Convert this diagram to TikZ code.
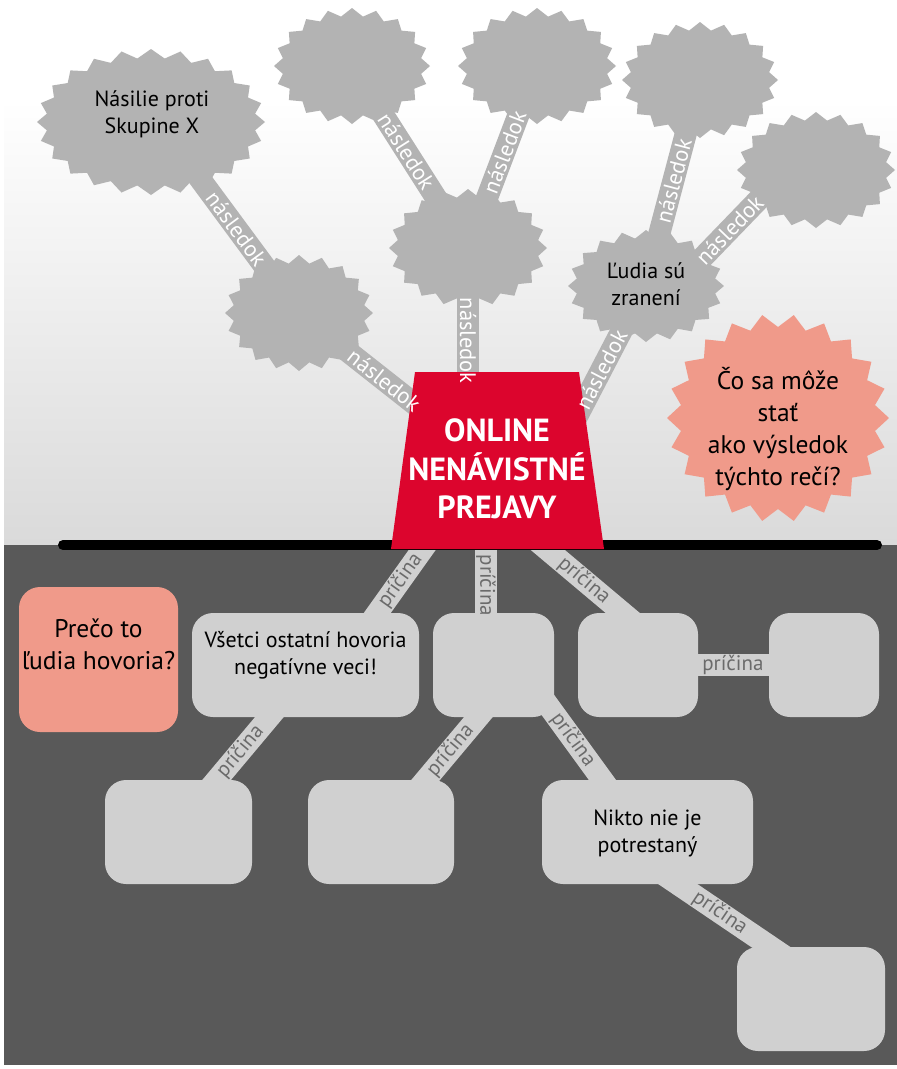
\documentclass[tikz,border=0pt]{standalone}
\usepackage{fontspec}
\setmainfont{PT Sans}
\usetikzlibrary{calc}
\pgfdeclarelayer{bg}\pgfdeclarelayer{bands}\pgfdeclarelayer{top}
\pgfsetlayers{bg,bands,main,top}
\definecolor{cloudgray}{HTML}{B3B3B3}
\definecolor{boxgray}{HTML}{D0D0D0}
\definecolor{darkbg}{HTML}{595959}
\definecolor{pinkc}{HTML}{F09A8A}
\definecolor{redc}{HTML}{DC052D}
\definecolor{lblgray}{HTML}{6B6B6B}
\definecolor{topbg}{HTML}{DADADA}
\newcommand\starfill[7]{%
  \fill[#7] plot[domain=0:360, samples=\number\numexpr2*#5+1\relax, variable=\t]
   ({#1+(#3-#6*mod(round(\t*#5/180),2))*cos(\t)},
    {#2+(#4-#6*mod(round(\t*#5/180),2))*sin(\t)}) -- cycle;}
\tikzset{
  topband/.style={line width=22pt, draw=cloudgray},
  botband/.style={line width=22pt, draw=boxgray},
  toplbl/.style={text=white, font=\fontsize{22.5}{22.5}\selectfont, inner sep=0pt},
  botlbl/.style={text=lblgray, font=\fontsize{21}{21}\selectfont, inner sep=0pt},
  txt/.style={font=\fontsize{22}{27}\selectfont, align=center, text=black, inner sep=0pt},
  bigtxt/.style={font=\fontsize{25.5}{32}\selectfont, align=center, text=black, inner sep=0pt},
  rbox/.style 2 args={fill=boxgray, rounded corners=21pt, inner sep=0pt, minimum width=#1pt, minimum height=#2pt},
  anchorpt/.style={inner sep=0pt, minimum size=0pt}
}
\begin{document}
\begin{tikzpicture}[x=1pt,y=-1pt]
\useasboundingbox (0,0) rectangle (897,1069);
\begin{pgfonlayer}{bg}
  \fill[white] (0,0) rectangle (897,1069);
  \shade[top color=white, bottom color=topbg] (4,100) rectangle (897,545);
  \fill[darkbg] (4,545) rectangle (897,1065);
\end{pgfonlayer}

% clouds
\starfill{151}{122}{114}{73}{24}{9}{cloudgray}
\starfill{352}{66}{78}{58}{20}{8}{cloudgray}
\starfill{537}{66}{79}{58}{20}{8}{cloudgray}
\starfill{700}{80}{78}{58}{20}{8}{cloudgray}
\starfill{816}{170}{79}{58}{20}{8}{cloudgray}
\starfill{468}{248}{79}{59}{20}{8}{cloudgray}
\starfill{299}{313}{74}{58}{20}{8}{cloudgray}
\starfill{646}{286}{78}{56}{20}{8}{cloudgray}
\starfill{778}{418}{111}{104}{22}{13}{pinkc}

\node[txt] (N) at (152,114) {Násilie proti\\Skupine X};
\node[anchorpt] (A) at (352,66) {};
\node[anchorpt] (B) at (537,66) {};
\node[anchorpt] (C) at (700,80) {};
\node[anchorpt] (D) at (816,170) {};
\node[anchorpt] (M) at (468,248) {};
\node[anchorpt] (L) at (299,313) {};
\node[txt] (U) at (646,284) {Ľudia sú\\zranení};
\node[bigtxt] (Q) at (778,429) {Čo sa môže\\stať\\ako výsledok\\týchto rečí?};

% ground line and central block
\draw[line width=10pt, line cap=round] (63,545) -- (877,545);
\fill[redc] (391,549) -- (415,372) -- (579,372) -- (604,549) -- cycle;
\node[font=\bfseries\fontsize{32}{38.5}\selectfont, text=white, align=center, inner sep=0pt] (on) at (497,469) {ONLINE\\NENÁVISTNÉ\\PREJAVY};

% boxes
\node[rbox={159}{145}, fill=pinkc] (P) at (98.5,659.5) {};
\node[bigtxt] (Pt) at (98.5,644) {Prečo to\\ľudia hovoria?};
\node[rbox={227}{104}] (V) at (305.5,665) {};
\node[txt] (Vt) at (305.5,655.5) {Všetci ostatní hovoria\\negatívne veci!};
\node[rbox={121}{104}] (T) at (493.5,665) {};
\node[rbox={120}{104}] (R1) at (638,665) {};
\node[rbox={110}{104}] (R2) at (824,665) {};
\node[rbox={147}{104}] (B1) at (178.5,832) {};
\node[rbox={146}{104}] (B2) at (381,832) {};
\node[rbox={211}{104}] (K) at (647.5,832) {};
\node[txt] (Kt) at (647.5,833) {Nikto nie je\\potrestaný};
\node[rbox={148}{104}] (BR) at (811,999) {};

% band end points
\coordinate (Ud) at (680,281);
\coordinate (Dd) at (790,167);
\coordinate (onR) at (570,430);
\coordinate (onV) at (435,532);
\coordinate (Vu) at (358,640);
\coordinate (onT) at (486,530);
\coordinate (onR1) at (530,535);
\coordinate (R1u) at (643,630);
\coordinate (Vd) at (282,702);
\coordinate (B1u) at (204,795);
\coordinate (Td) at (491,702);
\coordinate (B2u) at (413,795);
\coordinate (Tk) at (537,690);
\coordinate (Ku) at (617,800);
\coordinate (Kd) at (660,872);
\coordinate (BRu) at (790,960);

\begin{pgfonlayer}{bands}
  \draw[topband] (N.center) -- (L.center);
  \draw[topband] (L.center) -- (on.center);
  \draw[topband] (A.center) -- (M.center);
  \draw[topband] (M.center) -- (B.center);
  \draw[topband] (M.center) -- (M.center |- on.center);
  \draw[topband] (U.center) -- (C.center);
  \draw[topband] (Ud) -- (Dd);
  \draw[topband] (onR) -- (U.center);
  \draw[botband] (onV) -- (Vu);
  \draw[botband] (onT) -- (onT |- T.center);
  \draw[botband] (onR1) -- (R1u);
  \draw[botband] (R1.center) -- (R2.center);
  \draw[botband] (Vd) -- (B1u);
  \draw[botband] (Td) -- (B2u);
  \draw[botband] (Tk) -- (Ku);
  \draw[botband] (Kd) -- (BRu);
\end{pgfonlayer}

\begin{pgfonlayer}{top}
  \path (N.center) -- (L.center) node[toplbl, sloped, pos=0.575] {následok};
  \path (L.center) -- (on.center) node[toplbl, sloped, pos=0.431] {následok};
  \path (A.center) -- (M.center) node[toplbl, sloped, pos=0.47] {následok};
  \path (M.center) -- (B.center) node[toplbl, sloped, pos=0.527] {následok};
  \path (M.center) -- (M.center |- on.center) node[toplbl, rotate=-90, pos=0.42] {následok};
  \path (U.center) -- (C.center) node[toplbl, sloped, pos=0.506] {následok};
  \path (Ud) -- (Dd) node[toplbl, sloped, pos=0.45] {následok};
  \path (onR) -- (U.center) node[toplbl, sloped, pos=0.413] {následok};
  \path (onV) -- (Vu) node[botlbl, sloped, pos=0.45] {príčina};
  \path (onT) -- (onT |- T.center) node[botlbl, rotate=-90, pos=0.41] {príčina};
  \path (onR1) -- (R1u) node[botlbl, sloped, pos=0.478] {príčina};
  \path (R1.center) -- (R2.center) node[botlbl, pos=0.51] {príčina};
  \path (Vd) -- (B1u) node[botlbl, sloped, pos=0.534] {príčina};
  \path (Td) -- (B2u) node[botlbl, sloped, pos=0.52] {príčina};
  \path (Tk) -- (Ku) node[botlbl, sloped, pos=0.45] {príčina};
  \path (Kd) -- (BRu) node[botlbl, sloped, pos=0.461] {príčina};
\end{pgfonlayer}
\end{tikzpicture}
\end{document}
